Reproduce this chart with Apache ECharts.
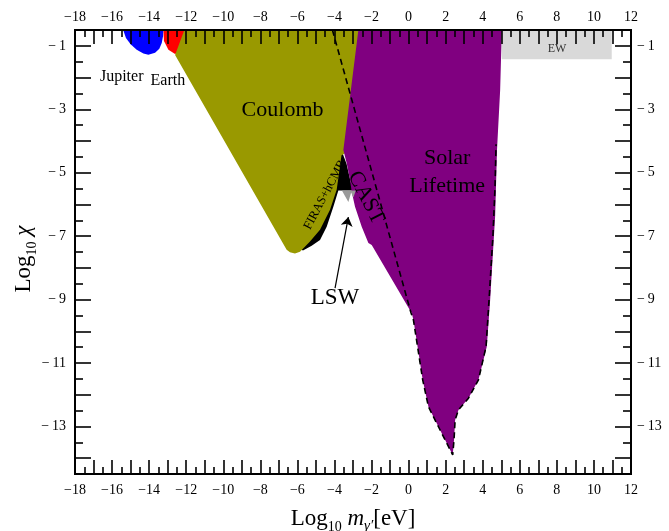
<!DOCTYPE html>
<html><head><meta charset="utf-8">
<script src="https://cdn.jsdelivr.net/npm/echarts@6/dist/echarts.min.js"></script>
<style>html,body{margin:0;padding:0;background:#fff}#c{width:669px;height:531px}</style>
</head><body><div id="c"></div>
<script>
// ---- axis ranges and ticks ----
const xRange = [-18, 12];
const yRange = [-14.5, -0.5];
const xLabelValues = [-18,-16,-14,-12,-10,-8,-6,-4,-2,0,2,4,6,8,10,12];
const xLongTicks = [-17,-16,-15,-14,-13,-12,-11,-10,-9,-8,-7,-6,-5,-4,-3,-2,-1,0,1,2,3,4,5,6,7,8,9,10,11];
const xShortTicks = [-17.5,-16.5,-15.5,-14.5,-13.5,-12.5,-11.5,-10.5,-9.5,-8.5,-7.5,-6.5,-5.5,-4.5,-3.5,-2.5,-1.5,-0.5,0.5,1.5,2.5,3.5,4.5,5.5,6.5,7.5,8.5,9.5,10.5,11.5];
const yLabelValues = [-13,-11,-9,-7,-5,-3,-1];
const yLongTicks = [-14,-13,-12,-11,-10,-9,-8,-7,-6,-5,-4,-3,-2,-1];
const yShortTicks = [-13.5,-12.5,-11.5,-10.5,-9.5,-8.5,-7.5,-6.5,-5.5,-4.5,-3.5,-2.5,-1.5];

// ---- excluded regions (log10 m [eV], log10 chi) ----
const ewBox = [[5.03,-0.5],[10.96,-0.5],[10.96,-1.42],[5.03,-1.42]];
const jupiter = [[-15.4,-0.5],[-15.25,-0.75],[-15.0,-0.95],[-14.67,-1.12],[-14.31,-1.24],[-14.04,-1.28],[-13.68,-1.22],[-13.45,-1.09],[-13.32,-0.91],[-13.25,-0.7],[-13.23,-0.5]];
const earth = [[-13.23,-0.5],[-13.2,-0.85],[-12.96,-1.12],[-12.6,-1.26],[-12.33,-1.17],[-12.06,-0.96],[-11.89,-0.75],[-11.79,-0.5]];
const firas = [[-3.62,-4.3],[-3.35,-4.72],[-3.12,-5.3],[-3.0,-5.56],[-3.79,-5.56],[-4.06,-6.07],[-4.42,-6.70],[-4.78,-7.12],[-5.23,-7.30],[-5.70,-7.45],[-5.86,-7.40],[-4.78,-6.7],[-3.88,-5.4],[-3.7,-4.4]];
const coulomb = [[-12.6,-1.285],[-12.1,-0.5],[-2.6,-0.5],[-3.45,-4.4],[-3.62,-4.45],[-3.88,-5.54],[-4.24,-6.17],[-4.78,-6.80],[-5.32,-7.17],[-5.86,-7.49],[-6.13,-7.55],[-6.40,-7.51],[-6.58,-7.43]];
const solar = [[-2.71,-0.5],[5.03,-0.5],[4.94,-2.39],[4.77,-4.28],[4.67,-6.36],[4.40,-9.01],[4.22,-10.48],[3.77,-11.53],[3.23,-12.11],[2.69,-12.48],[2.51,-12.8],[2.45,-13.43],[2.38,-13.9],[1.61,-13.01],[1.07,-12.38],[0.76,-11.53],[0.26,-9.64],[0.17,-9.43],[-1.99,-7.28],[-2.17,-7.22],[-2.53,-6.70],[-2.89,-6.07],[-3.07,-5.60],[-3.16,-5.23],[-3.34,-4.70],[-3.52,-4.28]];
const lsw = [[-3.6,-5.56],[-2.85,-5.56],[-2.98,-5.78],[-3.1,-5.62],[-3.25,-5.92]];
const castLine = [[-4.11,-0.5],[0.12,-9.4],[0.26,-9.64],[0.76,-11.53],[1.07,-12.38],[1.61,-13.01],[2.38,-13.9],[2.45,-13.43],[2.51,-12.8],[2.69,-12.48],[3.23,-12.11],[3.77,-11.53],[4.18,-10.48],[4.34,-9.01],[4.55,-7.0],[4.66,-5.5],[4.72,-4.1]];

// ---- annotations ----
const annotations = [
  {text:'Jupiter', at:[-15.48,-1.99]},
  {text:'Earth', at:[-12.99,-2.1]},
  {text:'Coulomb', at:[-6.80,-3.02]},
  {text:'Solar\nLifetime', at:[2.08,-4.97]},
  {text:'LSW', at:[-3.97,-8.95]},
  {text:'CAST', at:[-2.30,-5.79]},
  {text:'FIRAS+hCMB', at:[-4.51,-5.70]},
  {text:'EW', at:[8.01,-1.10]}
];
const lswArrow = [[-3.97,-8.64],[-3.25,-6.40]];

const FONT = 'Liberation Serif';
const annStyle = {
  'Jupiter': {fontSize:16},
  'Earth': {fontSize:16},
  'Coulomb': {fontSize:22},
  'Solar\nLifetime': {fontSize:22, lineHeight:28},
  'LSW': {fontSize:23},
  'CAST': {fontSize:22, rotate:-63},
  'FIRAS+hCMB': {fontSize:12.5, rotate:62},
  'EW': {fontSize:12, color:'#333'}
};

function fmt(v){ return v < 0 ? '\u2212' + Math.abs(v) : String(v); }
function fmtY(v){ return v < 0 ? '\u2212\u2009' + Math.abs(v) : String(v); }

function xAxisDef(position, long){
  return {
    type:'value', position, min:xRange[0], max:xRange[1], z:10,
    axisLine:{show:true, onZero:false, lineStyle:{color:'#000', width:2}},
    axisTick:{show:true, inside:true, length: long?14:7, customValues: long?xLongTicks:xShortTicks, lineStyle:{color:'#000', width:1.6}},
    axisLabel:{show:long, customValues:xLabelValues, formatter:fmt, margin: position==='bottom'?9:6, color:'#000', fontSize:14, fontFamily:FONT},
    splitLine:{show:false}
  };
}
function yAxisDef(position, long){
  return {
    type:'value', position, min:yRange[0], max:yRange[1], z:10,
    axisLine:{show:true, onZero:false, lineStyle:{color:'#000', width:2}},
    axisTick:{show:true, inside:true, length: long?16:8, customValues: long?yLongTicks:yShortTicks, lineStyle:{color:'#000', width:1.6}},
    axisLabel:{show:long, customValues:yLabelValues, formatter:fmtY, margin: position==='left'?9:6, color:'#000', fontSize:14, fontFamily:FONT},
    splitLine:{show:false}
  };
}

const xb = xAxisDef('bottom', true);
xb.name = '{a|Log}{s|10}{m| m}{g|\u03b3\u2032}{a|[eV]}';
xb.nameLocation = 'middle';
xb.nameGap = 30;
xb.nameMoveOverlap = false;
xb.nameTextStyle = {fontFamily:FONT, color:'#000', rich:{
  a:{fontSize:23, fontFamily:FONT, lineHeight:30, color:'#000'},
  s:{fontSize:14, fontFamily:FONT, verticalAlign:'bottom', lineHeight:14, color:'#000'},
  m:{fontSize:23, fontFamily:FONT, fontStyle:'italic', lineHeight:30, color:'#000'},
  g:{fontSize:15, fontFamily:FONT, fontStyle:'italic', verticalAlign:'bottom', lineHeight:14, color:'#000'}
}};
const yl = yAxisDef('left', true);
yl.name = '{a|Log}{s|10}{c| \u03c7}';
yl.nameLocation = 'middle';
yl.nameGap = 36;
yl.nameRotate = 90;
yl.nameMoveOverlap = false;
yl.nameTextStyle = {fontFamily:FONT, color:'#000', padding:[0,14,0,0], rich:{
  a:{fontSize:23, fontFamily:FONT, lineHeight:30, color:'#000'},
  s:{fontSize:14, fontFamily:FONT, verticalAlign:'bottom', lineHeight:14, color:'#000'},
  c:{fontSize:23, fontFamily:FONT, fontStyle:'italic', lineHeight:30, color:'#000'}
}};

function polygonSeries(name, pts, color){
  return {
    type:'custom', name, coordinateSystem:'cartesian2d', xAxisIndex:0, yAxisIndex:0,
    data:pts, encode:{x:0, y:1}, clip:true, silent:true,
    renderItem:function(params, api){
      if (params.dataIndex !== 0) return null;
      return {type:'polygon', shape:{points:pts.map(p => api.coord(p))}, style:{fill:color}};
    }
  };
}

const chart = echarts.init(document.getElementById('c'), null, {renderer:'canvas'});
chart.setOption({
  animation:false,
  backgroundColor:'#fff',
  textStyle:{fontFamily:FONT},
  grid:{left:75, right:38, top:30, bottom:57, containLabel:false, outerBoundsMode:'none'},
  xAxis:[xb, xAxisDef('bottom', false), xAxisDef('top', true), xAxisDef('top', false)],
  yAxis:[yl, yAxisDef('left', false), yAxisDef('right', true), yAxisDef('right', false)],
  series:[
    polygonSeries('EW', ewBox, '#d9d9d9'),
    polygonSeries('Jupiter', jupiter, '#0000ff'),
    polygonSeries('Earth', earth, '#ff0000'),
    polygonSeries('FIRAS+hCMB', firas, '#000000'),
    polygonSeries('Coulomb', coulomb, '#999900'),
    polygonSeries('Solar Lifetime', solar, '#800080'),
    polygonSeries('LSW', lsw, '#9a9a9a'),
    {type:'line', name:'CAST', data:castLine, showSymbol:false, symbol:'none', silent:true,
     lineStyle:{color:'#000', width:1.6, type:[6,4]}, z:4},
    {type:'lines', coordinateSystem:'cartesian2d', silent:true, z:5,
     data:[{coords:lswArrow}], symbol:['none','arrow'], symbolSize:[0,9],
     lineStyle:{color:'#000', width:1.2, opacity:1}},
    {type:'scatter', silent:true, z:6, symbolSize:0, itemStyle:{color:'#000', opacity:1},
     data:annotations.map(a => {
       const st = annStyle[a.text] || {};
       return {value:a.at, label:{show:true, position:'inside', formatter:a.text, fontFamily:FONT,
         fontSize:st.fontSize||16, lineHeight:st.lineHeight, rotate:st.rotate||0, color:st.color||'#000',
         opacity:1, textBorderWidth:0, align:'center', verticalAlign:'middle'}};
     })}
  ]
});
</script>
</body></html>
